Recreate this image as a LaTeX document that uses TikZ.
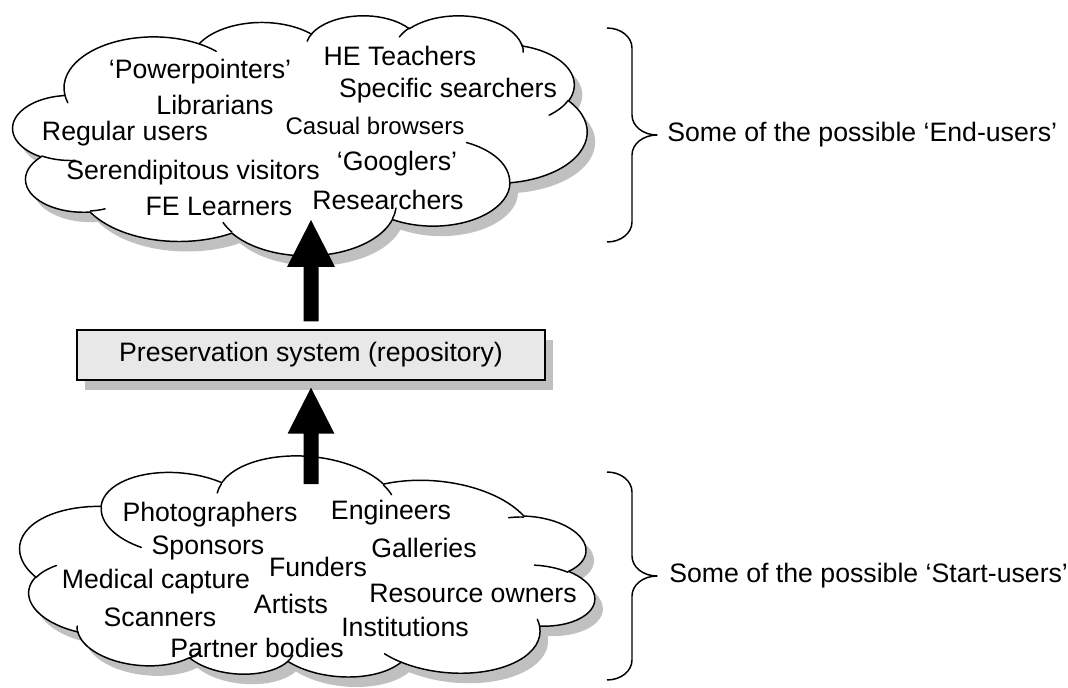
\documentclass[tikz,border=0pt]{standalone}
\usepackage{fontspec}
\setmainfont{Liberation Sans}
\usetikzlibrary{calc,shadows}

\definecolor{shadowgray}{RGB}{192,192,192}
\definecolor{boxgray}{RGB}{232,232,232}

% One elliptical piece of the cloud: the angles are given as visual angles
% on the ellipse and turned into the parametric angles that TikZ arcs use.
\newcommand\cloudprep[5]{%
  \pgfmathsetmacro\cpS{atan2(#2*sin(#4),#3*cos(#4))}%
  \pgfmathsetmacro\cpE{atan2(#2*sin(#4+#5),#3*cos(#4+#5))}%
  \pgfmathsetmacro\cpD{mod(\cpE-(\cpS)+720,360)}%
  \edef\cptmp{\noexpand\tikzset{#1/.style={start angle=\cpS,delta angle=\cpD,x radius=#2,y radius=#3}}}%
  \cptmp}

% outline lobes (frame 43.2 x 43.2, y pointing down)
\cloudprep{co1}{6.753}{9.190}{-190.487}{123.781}
\cloudprep{co2}{5.333}{7.267}{-144.102}{89.945}
\cloudprep{co3}{4.365}{5.945}{-145.808}{99.723}
\cloudprep{co4}{4.857}{6.595}{-130.986}{117.242}
\cloudprep{co5}{5.333}{7.273}{-78.709}{109.027}
\cloudprep{co6}{6.775}{9.220}{-46.267}{130.269}
\cloudprep{co7}{5.785}{7.867}{0.625}{114.033}
\cloudprep{co8}{6.752}{9.215}{22.452}{115.173}
\cloudprep{co9}{7.720}{10.543}{66.243}{75.711}
\cloudprep{co10}{4.360}{5.918}{-274.942}{146.736}
\cloudprep{co11}{4.345}{5.945}{-246.829}{152.519}
% inner curls where the lobes overlap
\cloudprep{cu1}{4.345}{5.945}{86.742}{26.430}
\cloudprep{cu2}{4.360}{5.918}{73.610}{11.447}
\cloudprep{cu3}{6.752}{9.215}{137.624}{14.081}
\cloudprep{cu4}{6.752}{9.215}{6.453}{15.998}
\cloudprep{cu5}{5.785}{7.867}{-70.292}{70.917}
\cloudprep{cu6}{5.333}{7.273}{30.318}{27.752}
\cloudprep{cu7}{4.857}{6.595}{-13.744}{14.859}
\cloudprep{cu8}{4.857}{6.595}{-149.181}{18.195}
\cloudprep{cu9}{4.365}{5.945}{-163.494}{17.686}
\cloudprep{cu10}{6.753}{9.190}{-66.707}{12.319}
\cloudprep{cu11}{6.753}{9.190}{157.654}{11.858}

\def\cloudpath{(3.9,14.37) arc[co1] arc[co2] arc[co3] arc[co4] arc[co5]
  arc[co6] arc[co7] arc[co8] arc[co9] arc[co10] arc[co11] -- cycle}
\def\cloudcurls{(4.693,26.177) arc[cu1] (6.928,34.899) arc[cu2]
  (16.478,39.090) arc[cu3] (28.827,34.751) arc[cu4] (34.129,22.954) arc[cu5]
  (41.798,15.354) arc[cu6] (38.324,5.426) arc[cu7] (29.078,3.952) arc[cu8]
  (22.141,4.720) arc[cu9] (14.000,5.192) arc[cu10] (4.127,15.789) arc[cu11]}

\tikzset{
  cloudline/.style={line width=1.1pt, line join=round, line cap=round},
  endcloud/.style={x=1cm, y=1cm, shift={(9.75pt,-11.25pt)}, xscale=0.35024, yscale=-0.14644},
  startcloud/.style={x=1cm, y=1cm, shift={(230.6pt,-426.75pt)}, rotate=175,
    xscale=0.35207, yscale=-0.13607, shift={(-21.6,-21.6)}},
  dropoff/.style={shift={(6pt,-7.5pt)}},
  lbl/.style={font=\fontsize{20}{24}\selectfont, inner sep=0pt},
  lblsmall/.style={font=\fontsize{18}{22}\selectfont, inner sep=0pt},
  repobox/.style={draw, line width=1.1pt, fill=boxgray, minimum width=351pt,
    minimum height=37.5pt, inner sep=0pt, font=\fontsize{20}{24}\selectfont,
    drop shadow={shadow xshift=6pt, shadow yshift=-7.5pt, fill=shadowgray, opacity=1}},
  blockarrow/.style={fill=black},
  braceline/.style={line width=1.1pt, line join=round},
}

\begin{document}
\begin{tikzpicture}[x=0.75pt, y=-0.75pt]
\useasboundingbox (0,0) rectangle (1068,688);

% ---- end-user cloud ----
\begin{scope}[dropoff]
  \begin{scope}[endcloud]
    \fill[shadowgray] \cloudpath;
  \end{scope}
\end{scope}
\begin{scope}[endcloud]
  \filldraw[cloudline, fill=white] \cloudpath;
  \draw[cloudline] \cloudcurls;
\end{scope}

% ---- start-user cloud (same outline, turned round) ----
\begin{scope}[dropoff]
  \begin{scope}[startcloud]
    \fill[shadowgray] \cloudpath;
  \end{scope}
\end{scope}
\begin{scope}[startcloud]
  \filldraw[cloudline, fill=white] \cloudpath;
  \draw[cloudline] \cloudcurls;
\end{scope}

% ---- end users ----
\node[lbl] (powerpointers) at (200,72) {‘Powerpointers’};
\node[lbl] (heteachers) at (400,56) {HE Teachers};
\node[lbl] (librarians) at (215,105) {Librarians};
\node[lbl] (specific) at (448,91) {Specific searchers};
\node[lbl] (regular) at (125,134) {Regular users};
\node[lblsmall] (casual) at (375,126) {Casual browsers};
\node[lbl] (serendipitous) at (193,173) {Serendipitous visitors};
\node[lbl] (googlers) at (397,164) {‘Googlers’};
\node[lbl] (felearners) at (219,206) {FE Learners};
\node[lbl] (researchers) at (388,200) {Researchers};

% ---- start users ----
\node[lbl] (photographers) at (210,515) {Photographers};
\node[lbl] (engineers) at (391,513) {Engineers};
\node[lbl] (sponsors) at (208,548) {Sponsors};
\node[lbl] (galleries) at (424,548) {Galleries};
\node[lbl] (funders) at (318,567) {Funders};
\node[lbl] (medical) at (156,582) {Medical capture};
\node[lbl] (owners) at (473,593) {Resource owners};
\node[lbl] (artists) at (291,604) {Artists};
\node[lbl] (scanners) at (160,617) {Scanners};
\node[lbl] (institutions) at (405,627) {Institutions};
\node[lbl] (partner) at (257,648) {Partner bodies};

% ---- repository ----
\node[repobox] (repo) at (311,355) {Preservation system (repository)};

% ---- block arrows ----
\coordinate (uptail) at ($(repo.north)+(0,-8)$);
\coordinate (uptip) at (311,220);
\coordinate (lowtip) at ($(repo.south)+(0,7)$);
\coordinate (lowtail) at (311,484);
\fill[blockarrow] ($(uptail)+(-7.5,0)$) -- ($(uptip)+(-7.5,47)$) -- ($(uptip)+(-24,47)$)
  -- (uptip) -- ($(uptip)+(24,47)$) -- ($(uptip)+(7.5,47)$) -- ($(uptail)+(7.5,0)$) -- cycle;
\fill[blockarrow] ($(lowtail)+(-7.5,0)$) -- ($(lowtip)+(-7.5,46)$) -- ($(lowtip)+(-23.5,46)$)
  -- (lowtip) -- ($(lowtip)+(23.5,46)$) -- ($(lowtip)+(7.5,46)$) -- ($(lowtail)+(7.5,0)$) -- cycle;

% ---- braces and their captions ----
\coordinate (endbrace) at (657,135);
\coordinate (startbrace) at (657,576);
\draw[braceline] (607,28) .. controls (621,28) and (632,37) .. (632,48) -- (632,115)
  .. controls (632,126) and (643,135) .. (endbrace)
  .. controls (643,135) and (632,144) .. (632,155) -- (632,222)
  .. controls (632,233) and (621,242) .. (607,242);
\draw[braceline] (607,472) .. controls (621,472) and (632,481) .. (632,492) -- (632,556)
  .. controls (632,567) and (643,576) .. (startbrace)
  .. controls (643,576) and (632,585) .. (632,596) -- (632,660)
  .. controls (632,671) and (621,680) .. (607,680);
\node[lbl, anchor=west] (endcaption) at ($(endbrace)+(10,0)$) {Some of the possible ‘End-users’};
\node[lbl, anchor=west] (startcaption) at ($(startbrace)+(12,0)$) {Some of the possible ‘Start-users’};
\end{tikzpicture}
\end{document}
